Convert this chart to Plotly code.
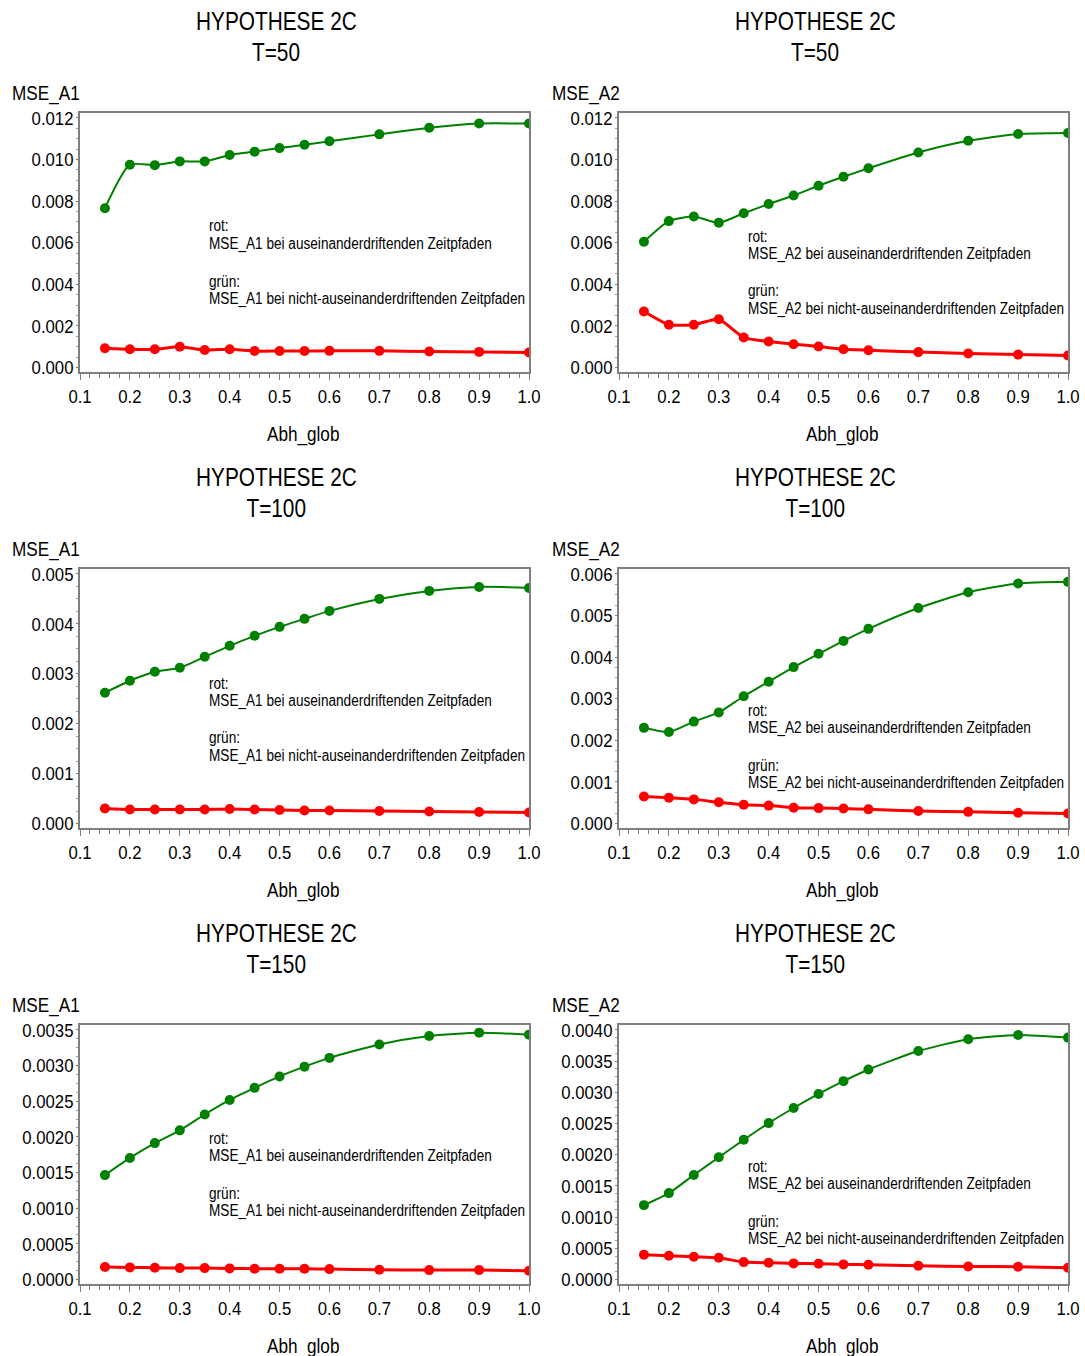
import plotly.graph_objects as go
from plotly.subplots import make_subplots

# Abh_glob grid
abh_glob = [0.15, 0.2, 0.25, 0.3, 0.35, 0.4, 0.45, 0.5, 0.55, 0.6, 0.7, 0.8, 0.9, 1.0]

# T=50
t50_a1_gruen = [0.00766, 0.00975, 0.00973, 0.00991, 0.00991, 0.01022, 0.01038, 0.01055, 0.01071, 0.01088, 0.01121, 0.01153, 0.01173, 0.01173]
t50_a1_rot = [0.00093, 0.00088, 0.00088, 0.00100, 0.00084, 0.00088, 0.00079, 0.00079, 0.00079, 0.00080, 0.00080, 0.00077, 0.00075, 0.00072]
t50_a2_gruen = [0.00605, 0.00704, 0.00726, 0.00696, 0.00742, 0.00786, 0.00827, 0.00874, 0.00917, 0.00958, 0.01034, 0.01090, 0.01123, 0.01128]
t50_a2_rot = [0.00269, 0.00206, 0.00206, 0.00232, 0.00144, 0.00125, 0.00112, 0.00101, 0.00088, 0.00083, 0.00074, 0.00067, 0.00062, 0.00058]

# T=100
t100_a1_gruen = [0.00262, 0.00286, 0.00304, 0.00312, 0.00334, 0.00356, 0.00376, 0.00394, 0.00410, 0.00426, 0.00450, 0.00466, 0.00474, 0.00472]
t100_a1_rot = [0.00030, 0.00028, 0.00028, 0.00028, 0.00028, 0.00029, 0.00028, 0.00027, 0.00026, 0.00026, 0.00025, 0.00024, 0.00023, 0.00022]
t100_a2_gruen = [0.00230, 0.00220, 0.00245, 0.00267, 0.00306, 0.00341, 0.00376, 0.00408, 0.00439, 0.00468, 0.00518, 0.00556, 0.00577, 0.00581]
t100_a2_rot = [0.00065, 0.00062, 0.00058, 0.00051, 0.00045, 0.00043, 0.00038, 0.00037, 0.00036, 0.00034, 0.00030, 0.00028, 0.00026, 0.00024]

# T=150
t150_a1_gruen = [0.001464, 0.001705, 0.001913, 0.002092, 0.002314, 0.002518, 0.002688, 0.002848, 0.002985, 0.003108, 0.003297, 0.003415, 0.003462, 0.003434]
t150_a1_rot = [0.000175, 0.000170, 0.000165, 0.000160, 0.000160, 0.000156, 0.000151, 0.000151, 0.000151, 0.000146, 0.000137, 0.000132, 0.000132, 0.000123]
t150_a2_gruen = [0.001192, 0.001385, 0.001675, 0.001960, 0.002239, 0.002507, 0.002749, 0.002974, 0.003179, 0.003366, 0.003662, 0.003850, 0.003920, 0.003877]
t150_a2_rot = [0.000397, 0.000381, 0.000365, 0.000349, 0.000279, 0.000268, 0.000258, 0.000252, 0.000242, 0.000236, 0.000220, 0.000209, 0.000204, 0.000188]

t_labels = ["T=50", "T=100", "T=150"]
mse_names = ["MSE_A1", "MSE_A2"]
x_ticks = [0.1, 0.2, 0.3, 0.4, 0.5, 0.6, 0.7, 0.8, 0.9, 1.0]
x_ticktext = ["0.1", "0.2", "0.3", "0.4", "0.5", "0.6", "0.7", "0.8", "0.9", "1.0"]
y_max = [[0.012, 0.012], [0.005, 0.006], [0.0035, 0.0040]]
y_step = [[0.002, 0.002], [0.001, 0.001], [0.0005, 0.0005]]
y_fmt = [[".3f", ".3f"], [".3f", ".3f"], [".4f", ".4f"]]

panels = [
    [(t50_a1_gruen, t50_a1_rot), (t50_a2_gruen, t50_a2_rot)],
    [(t100_a1_gruen, t100_a1_rot), (t100_a2_gruen, t100_a2_rot)],
    [(t150_a1_gruen, t150_a1_rot), (t150_a2_gruen, t150_a2_rot)],
]

W, H = 1085, 1356
FONT = "Liberation Sans, Arial, sans-serif"
GREEN = "#008000"
RED = "#ff0000"
AXIS_GREY = "#808080"

# frame geometry in pixels
col_left = [80, 619]
col_right = [528, 1067]
row_top = [113, 569, 1025]
row_bottom = [372, 828, 1284]
row_shift = [0, 456, 912]
note_top = [[113, 123], [114, 141], [113, 141]]


def fx(px):
    return px / W


def fy(py):
    return 1 - py / H


fig = make_subplots(rows=3, cols=2)

annotations = []
for r in range(3):
    for c in range(2):
        gruen, rot = panels[r][c]
        fig.add_trace(go.Scatter(
            x=abh_glob, y=rot, mode="lines+markers",
            line=dict(color=RED, width=3, shape="spline", smoothing=0.5),
            marker=dict(color=RED, size=10, symbol="circle"),
            showlegend=False), row=r + 1, col=c + 1)
        fig.add_trace(go.Scatter(
            x=abh_glob, y=gruen, mode="lines+markers",
            line=dict(color=GREEN, width=2, shape="spline", smoothing=0.6),
            marker=dict(color=GREEN, size=10, symbol="circle"),
            showlegend=False), row=r + 1, col=c + 1)

        ymax = y_max[r][c]
        pad = ymax * 4.5 / 250
        fig.update_xaxes(
            domain=[fx(col_left[c]), fx(col_right[c] + 1)],
            range=[0.1, 1.0], tickmode="array",
            tickvals=x_ticks, ticktext=x_ticktext,
            ticks="outside", ticklen=6, tickcolor=AXIS_GREY, tickwidth=1,
            minor=dict(ticks="outside", ticklen=4, tickcolor=AXIS_GREY, dtick=0.02, tick0=0.1),
            showline=True, linecolor=AXIS_GREY, linewidth=1.5, mirror=True,
            showgrid=False, zeroline=False, automargin=False,
            tickfont=dict(family=FONT, size=19, color="#000"),
            ticklabelstandoff=0,
            row=r + 1, col=c + 1)
        fig.update_yaxes(
            domain=[fy(row_bottom[r]), fy(row_top[r])],
            range=[-pad, ymax + pad * 1.1],
            tick0=0, dtick=y_step[r][c], tickformat=y_fmt[r][c],
            ticks="outside", ticklen=2, tickcolor=AXIS_GREY,
            minor=dict(ticks="outside", ticklen=2, tickcolor="#a0a0a0", dtick=y_step[r][c] / 4),
            showline=True, linecolor=AXIS_GREY, linewidth=1.5, mirror=True,
            showgrid=False, zeroline=False, automargin=False,
            tickfont=dict(family=FONT, size=19, color="#000"),
            ticklabelstandoff=-1,
            row=r + 1, col=c + 1)

        cx = [276, 815][c]
        annotations.append(dict(text="HYPOTHESE 2C", x=fx(cx), y=fy(21 + row_shift[r]),
                                xref="paper", yref="paper", showarrow=False,
                                xanchor="center", yanchor="middle",
                                font=dict(family=FONT, size=26, color="#000")))
        annotations.append(dict(text=t_labels[r], x=fx(cx), y=fy(52 + row_shift[r]),
                                xref="paper", yref="paper", showarrow=False,
                                xanchor="center", yanchor="middle",
                                font=dict(family=FONT, size=26, color="#000")))
        annotations.append(dict(text=mse_names[c], x=fx([10, 550][c]), y=fy(93 + row_shift[r]),
                                xref="paper", yref="paper", showarrow=False,
                                xanchor="left", yanchor="middle",
                                font=dict(family=FONT, size=19.5, color="#000")))
        annotations.append(dict(text="Abh_glob", x=fx([303, 842][c]), y=fy(434 + row_shift[r]),
                                xref="paper", yref="paper", showarrow=False,
                                xanchor="center", yanchor="middle",
                                font=dict(family=FONT, size=19.5, color="#000")))

        name = mse_names[c]
        note_lines = [
            (0, "rot:"),
            (18, f"{name} bei auseinanderdriftenden Zeitpfaden"),
            (55, "grün:"),
            (73, f"{name} bei nicht-auseinanderdriftenden Zeitpfaden"),
        ]
        base = row_top[r] + note_top[r][c]
        for dy, txt in note_lines:
            annotations.append(dict(text=txt, x=fx([207, 746][c]), y=fy(base + dy),
                                    xref="paper", yref="paper", showarrow=False,
                                    xanchor="left", yanchor="middle",
                                    font=dict(family=FONT, size=16, color="#000")))

fig.update_layout(
    width=W, height=H,
    margin=dict(l=0, r=0, t=0, b=0),
    paper_bgcolor="white", plot_bgcolor="white",
    annotations=annotations,
    font=dict(family=FONT, color="#000"),
)

# Condense every text run horizontally (narrow sans look); left-anchored
# annotations keep their left edge.
condense_js = """
var gd = document.getElementById('{plot_id}');
function condense() {
  var anns = (gd.layout && gd.layout.annotations) || [];
  gd.querySelectorAll('text').forEach(function (t) {
    if (t.getAttribute('lengthAdjust')) return;
    var w = t.getComputedTextLength();
    if (!(w > 0)) return;
    var fs = parseFloat(window.getComputedStyle(t).fontSize) || 16;
    var k = fs >= 24 ? 0.8 : (fs >= 18 ? 0.88 : 0.85);
    t.setAttribute('textLength', (w * k).toFixed(2));
    t.setAttribute('lengthAdjust', 'spacingAndGlyphs');
    var g = t.closest('g.annotation');
    if (g) {
      var a = anns[+g.getAttribute('data-index')];
      if (a && a.xanchor === 'left') {
        var d = w * (1 - k) / 2;
        t.setAttribute('transform', 'translate(' + (-d).toFixed(2) + ',0) ' + (t.getAttribute('transform') || ''));
      }
    }
  });
}
condense();
gd.on('plotly_afterplot', condense);
"""

fig.write_html("out.html", post_script=condense_js)
